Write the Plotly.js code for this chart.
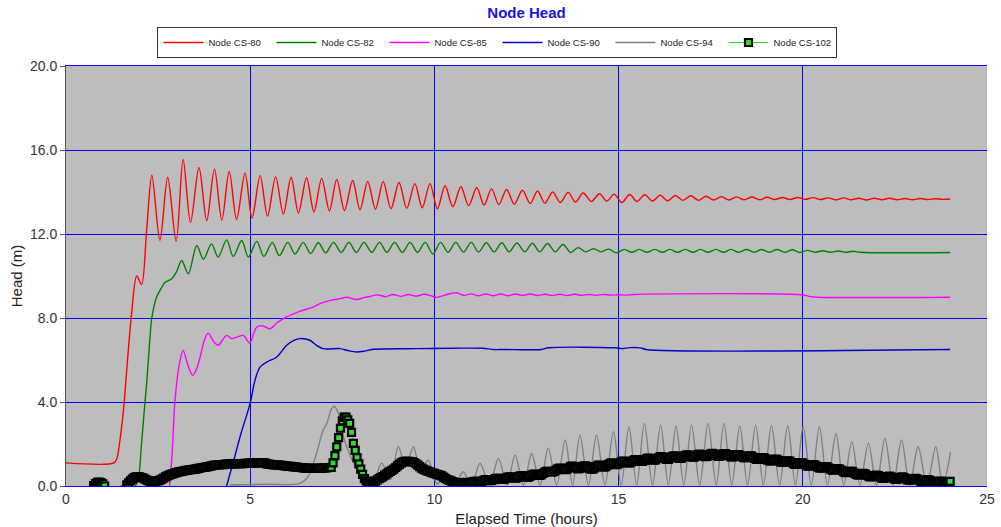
<!DOCTYPE html>
<html>
<head>
<meta charset="utf-8">
<script src="https://cdn.plot.ly/plotly-3.0.1.min.js"></script>
<style>html,body{margin:0;padding:0;background:#fff;}#chart{width:1001px;height:527px;}</style>
</head>
<body>
<div id="chart"></div>
<script>
const seriesNames = ['Node CS-80', 'Node CS-82', 'Node CS-85', 'Node CS-90', 'Node CS-94', 'Node CS-102'];
const xTicks = [0, 5, 10, 15, 20, 25];
const yTicks = [0, 4, 8, 12, 16, 20];

const cs80T = [0, 1.3, 1.38, 1.45, 1.56, 1.67, 1.78, 1.92, 2.05, 2.19, 2.33,
  2.55, 2.76, 2.99, 3.18, 3.38, 3.61, 3.82, 4.03, 4.23, 4.43, 4.63, 4.86, 5.05, 5.27, 5.47, 5.69, 5.9, 6.11,
  6.31, 6.53, 6.73, 6.94, 7.15, 7.35, 7.56, 7.78, 7.98, 8.19, 8.4, 8.61, 8.82, 9.04, 9.25, 9.47, 9.67, 9.88,
  10.08, 10.29, 10.5, 10.72, 10.93, 11.15, 11.35, 11.55, 11.75, 11.96, 12.17, 12.39, 12.6, 12.8, 13.0, 13.21,
  13.42, 13.63, 13.83, 14.04, 14.26, 14.48, 14.68, 14.88, 15.09, 15.3, 15.5, 15.71, 15.92, 16.13, 16.33, 16.54,
  16.75, 16.96, 17.17, 17.37, 17.58, 17.79, 18.0, 18.2, 18.41, 18.62, 18.83, 19.03, 19.24, 19.45, 19.65, 19.86,
  20.07, 20.28, 20.48, 20.69, 20.9, 21.11, 21.31, 21.52, 21.73, 21.94, 22.15, 22.35, 22.56, 22.77, 22.98, 23.18,
  23.39, 23.6, 23.8, 24.0];
const cs80V = [1.1, 1.1, 1.3, 2.0, 3.6, 6.0, 8.2, 10.0, 9.6, 12.2, 14.8,
  11.7, 14.7, 11.65, 15.55, 12.55, 15.17, 12.63, 15.1, 12.65, 14.98, 12.7, 14.9, 12.75, 14.78, 12.85, 14.72, 12.95, 14.7,
  13.0, 14.68, 13.05, 14.65, 13.1, 14.6, 13.12, 14.55, 13.15, 14.5, 13.18, 14.5, 13.2, 14.45, 13.22, 14.4, 13.25, 14.4,
  13.2, 14.3, 13.3, 14.25, 13.35, 14.2, 13.38, 14.15, 13.4, 14.12, 13.42, 14.08, 13.45, 14.05, 13.47, 14.0,
  13.5, 13.98, 13.52, 13.95, 13.55, 13.92, 13.57, 13.9, 13.5, 13.88, 13.55, 13.87, 13.57, 13.85, 13.58, 13.83,
  13.6, 13.82, 13.6, 13.8, 13.62, 13.78, 13.62, 13.77, 13.63, 13.76, 13.63, 13.75, 13.64, 13.74, 13.64, 13.74,
  13.65, 13.73, 13.64, 13.72, 13.62, 13.72, 13.63, 13.7, 13.62, 13.7, 13.63, 13.7, 13.63, 13.69, 13.63, 13.69,
  13.64, 13.68, 13.65, 13.67];

const cs82T = [1.88, 1.96, 2.05, 2.12, 2.19, 2.26, 2.33, 2.46, 2.58, 2.69, 2.87, 3.0, 3.14,
  3.32, 3.55, 3.73, 3.95, 4.13, 4.36, 4.54, 4.77, 4.95, 5.18, 5.37, 5.6, 5.79, 6.02, 6.22, 6.44, 6.64, 6.85,
  7.05, 7.26, 7.47, 7.68, 7.88, 8.09, 8.3, 8.51, 8.71, 8.92, 9.13, 9.34, 9.54, 9.75, 9.96, 10.17, 10.37, 10.58,
  10.79, 11.0, 11.2, 11.41, 11.62, 11.83, 12.03, 12.24, 12.45, 12.66, 12.86, 13.07, 13.28, 13.49, 13.7, 13.9,
  14.11, 14.32, 14.52, 14.73, 14.94, 15.15, 15.36, 15.56, 15.77, 15.98, 16.19, 16.39, 16.6, 16.81, 17.02, 17.22,
  17.43, 17.64, 17.85, 18.05, 18.26, 18.47, 18.68, 18.88, 19.09, 19.3, 19.51, 19.71, 19.92, 20.13, 20.34, 20.54,
  20.75, 20.96, 21.17, 21.37, 21.55, 24.0];
const cs82V = [0, 0.3, 2.0, 3.5, 4.9, 6.6, 8.0, 9.0, 9.4, 9.7, 9.87, 10.2, 10.74,
  10.1, 11.45, 10.8, 11.53, 10.9, 11.72, 10.93, 11.69, 10.9, 11.65, 10.93, 11.6, 10.97, 11.6, 11.05, 11.6, 11.07, 11.58,
  11.1, 11.6, 11.12, 11.6, 11.12, 11.6, 11.13, 11.6, 11.13, 11.6, 11.12, 11.6, 11.13, 11.6, 11.05, 11.6, 11.13, 11.6,
  11.14, 11.6, 11.14, 11.58, 11.15, 11.58, 11.15, 11.57, 11.15, 11.56, 11.15, 11.55, 11.15, 11.5, 11.12, 11.35,
  11.15, 11.3, 11.15, 11.28, 11.1, 11.27, 11.13, 11.27, 11.13, 11.27, 11.13, 11.27, 11.13, 11.27, 11.13, 11.27,
  11.13, 11.27, 11.13, 11.27, 11.13, 11.26, 11.13, 11.26, 11.13, 11.26, 11.13, 11.25, 11.12, 11.22, 11.13, 11.2,
  11.13, 11.19, 11.13, 11.18, 11.13, 11.12];

const cs85T = [2.81, 2.88, 2.96, 3.08, 3.18, 3.3, 3.44, 3.55, 3.64, 3.75, 3.86, 4.0, 4.13, 4.25, 4.36, 4.5, 4.65, 4.81,
  4.99, 5.1, 5.18, 5.35, 5.54, 5.75, 6.08, 6.4, 6.71, 6.89, 7.2, 7.44, 7.62, 7.89, 8.1, 8.25,
  8.46, 8.67, 8.88, 9.09, 9.3, 9.51, 9.72, 9.93, 10.05, 10.3, 10.6, 10.8, 11.0, 11.2, 11.4, 11.6, 11.8, 12.0, 12.2,
  12.4, 12.6, 12.8, 13.0, 13.2, 13.4, 13.6, 13.8, 14.0, 14.2, 14.4, 14.6, 14.8, 15.0, 15.2, 15.4, 20.0, 20.2, 20.4, 24.0];
const cs85V = [0, 1.5, 4.1, 5.83, 6.46, 5.8, 5.27, 5.6, 6.14, 6.9, 7.28, 6.9, 6.7, 6.95, 7.17, 7.02, 7.1, 7.17,
  6.81, 7.3, 7.57, 7.62, 7.49, 7.8, 8.12, 8.35, 8.52, 8.68, 8.85, 8.92, 8.99, 8.88, 8.98, 9.03,
  9.1, 9.02, 9.12, 9.03, 9.12, 9.04, 9.13, 9.05, 8.98, 9.1, 9.2, 9.08, 9.15, 9.06, 9.14, 9.06, 9.14, 9.06, 9.14,
  9.07, 9.14, 9.07, 9.13, 9.07, 9.13, 9.07, 9.13, 9.08, 9.12, 9.08, 9.12, 9.09, 9.11, 9.09, 9.12, 9.1, 9.02, 8.99, 8.99];

const cs90T = [4.36, 4.55, 4.75, 5.0, 5.13, 5.27, 5.45, 5.72, 5.99, 6.2, 6.35, 6.62, 6.8, 6.98, 7.44, 7.65, 7.89, 8.1,
  8.34, 9.5, 10.5, 11.3, 11.6, 11.9, 12.9, 13.1, 14.9, 15.1, 15.3, 15.6, 15.75, 24.0];
const cs90V = [0, 1.2, 2.5, 3.95, 5.04, 5.67, 5.9, 6.14, 6.7, 6.95, 7.02, 6.94, 6.7, 6.54, 6.54, 6.45, 6.38, 6.42,
  6.51, 6.54, 6.56, 6.56, 6.5, 6.5, 6.5, 6.58, 6.58, 6.54, 6.59, 6.58, 6.5, 6.5];

const cs94T = [4.45, 5.5, 6.3, 6.5, 6.62, 6.8, 6.98, 7.08, 7.21, 7.28, 7.39, 7.5, 7.7, 7.9, 8.12, 8.35, 8.57, 8.8,
  9.02, 9.22, 9.43, 9.63, 9.83, 10.08, 10.33, 10.55, 10.78, 11.0, 11.24, 11.49, 11.74, 11.97, 12.19, 12.42, 12.64,
  12.87, 13.09, 13.32, 13.55, 13.75, 13.95, 14.18, 14.4, 14.63, 14.86, 15.07, 15.28, 15.49, 15.7, 15.92, 16.14,
  16.35, 16.56, 16.77, 16.98, 17.2, 17.43, 17.65, 17.86, 18.07, 18.29, 18.5, 18.72, 18.93, 19.15, 19.37, 19.59,
  19.8, 20.01, 20.23, 20.45, 20.67, 20.9, 21.11, 21.33, 21.55, 21.78, 22.0, 22.23, 22.45, 22.68, 22.9, 23.13,
  23.37, 23.61, 23.8, 24.01];
const cs94V = [0.05, 0.08, 0.1, 0.3, 0.6, 1.55, 2.66, 2.98, 3.69, 3.8, 3.47, 2.5, 1.5, 0.8, 0.4, 0.3, 1.08, 0.3,
  1.87, 0.9, 1.87, 0.6, 1.24, 0.1, 0.6, 0.05, 0.68, 0.05, 1.08, 0.05, 1.31, 0.05, 1.47, 0.05, 1.55,
  0.05, 1.79, 0.05, 2.19, 0.05, 2.42, 0.05, 2.42, 0.05, 2.58, 0.05, 2.82, 0.05, 2.98, 0.05, 2.9,
  0.05, 2.86, 0.05, 2.9, 0.05, 2.98, 0.05, 2.98, 0.05, 2.86, 0.05, 2.9, 0.05, 2.88, 0.05, 2.88,
  0.05, 2.82, 0.05, 2.82, 0.05, 2.5, 0.05, 2.1, 0.05, 2.03, 0.05, 2.27, 0.05, 2.19, 0.05, 1.87,
  0.05, 1.87, 0.05, 1.63];

// CS-102: one value every 0.05 h from 0 to 24 h (values below 0 lie outside the plotted range)
const cs102Start = 0;
const cs102Step = 0.05;
const cs102V = [
  -1, -1, -1, -1, -1, -1, -1, -1, -1, -1, -1, -1, -1, -1, -0.3, 0.02, 0.12, 0.17, 0.18, 0.16,
  0.1, 0.0, -0.4, -1, -1, -1, -1, -1, -1, -1, -1, -1, -0.2, 0.05, 0.15, 0.25, 0.33, 0.4, 0.44, 0.45,
  0.44, 0.4, 0.38, 0.33, 0.28, 0.24, 0.21, 0.2, 0.21, 0.23, 0.26, 0.28, 0.33, 0.38, 0.43, 0.48, 0.52, 0.55, 0.58, 0.61,
  0.64, 0.67, 0.68, 0.7, 0.72, 0.74, 0.75, 0.77, 0.78, 0.79, 0.8, 0.82, 0.84, 0.86, 0.88, 0.89, 0.9, 0.92, 0.94, 0.96,
  0.98, 1.0, 1.0, 1.01, 1.02, 1.02, 1.03, 1.04, 1.04, 1.05, 1.05, 1.05, 1.06, 1.06, 1.06, 1.07, 1.07, 1.08, 1.08, 1.08,
  1.09, 1.09, 1.1, 1.1, 1.1, 1.1, 1.11, 1.11, 1.1, 1.05, 1.04, 1.03, 1.02, 1.01, 1.0, 1.0, 0.99, 0.98, 0.97, 0.96,
  0.95, 0.94, 0.93, 0.92, 0.91, 0.9, 0.89, 0.88, 0.87, 0.86, 0.85, 0.84, 0.84, 0.84, 0.84, 0.84, 0.84, 0.84, 0.84, 0.85,
  0.86, 0.86, 0.87, 0.88, 0.89, 1.1, 1.45, 1.87, 2.3, 2.75, 3.1, 3.28, 3.28, 3.15, 2.98, 2.55, 2.03, 1.7, 1.35, 1.05,
  0.8, 0.55, 0.35, 0.24, 0.18, 0.14, 0.13, 0.17, 0.23, 0.29, 0.35, 0.4, 0.45, 0.52, 0.58, 0.64, 0.7, 0.75, 0.8, 0.88,
  0.96, 1.03, 1.1, 1.15, 1.17, 1.17, 1.17, 1.16, 1.15, 1.12, 1.06, 0.99, 0.92, 0.85, 0.8, 0.76, 0.72, 0.69, 0.66, 0.62,
  0.6, 0.57, 0.54, 0.52, 0.48, 0.42, 0.36, 0.31, 0.28, 0.24, 0.2, 0.17, 0.15, 0.13, 0.13, 0.14, 0.16, 0.17, 0.16, 0.15,
  0.17, 0.2, 0.22, 0.22, 0.2, 0.2, 0.23, 0.28, 0.3, 0.28, 0.26, 0.27, 0.3, 0.35, 0.37, 0.37, 0.34, 0.32, 0.33, 0.38,
  0.42, 0.44, 0.42, 0.38, 0.37, 0.4, 0.46, 0.5, 0.5, 0.46, 0.42, 0.42, 0.47, 0.53, 0.57, 0.56, 0.52, 0.5, 0.53, 0.6,
  0.66, 0.7, 0.7, 0.68, 0.66, 0.69, 0.76, 0.82, 0.85, 0.84, 0.8, 0.78, 0.8, 0.87, 0.93, 0.95, 0.92, 0.86, 0.82, 0.84,
  0.9, 0.95, 0.96, 0.92, 0.85, 0.8, 0.8, 0.86, 0.94, 0.99, 0.98, 0.93, 0.9, 0.92, 0.99, 1.06, 1.1, 1.08, 1.03, 1.02,
  1.07, 1.13, 1.17, 1.18, 1.15, 1.1, 1.1, 1.15, 1.22, 1.26, 1.26, 1.22, 1.17, 1.17, 1.22, 1.29, 1.33, 1.32, 1.28, 1.23,
  1.24, 1.3, 1.37, 1.4, 1.38, 1.32, 1.27, 1.27, 1.33, 1.4, 1.44, 1.42, 1.36, 1.31, 1.32, 1.38, 1.45, 1.48, 1.47, 1.42,
  1.37, 1.37, 1.42, 1.49, 1.52, 1.5, 1.45, 1.4, 1.41, 1.47, 1.53, 1.55, 1.52, 1.46, 1.41, 1.42, 1.48, 1.53, 1.54, 1.5,
  1.44, 1.39, 1.39, 1.44, 1.49, 1.5, 1.46, 1.4, 1.35, 1.35, 1.39, 1.43, 1.43, 1.38, 1.32, 1.27, 1.27, 1.31, 1.35, 1.34,
  1.29, 1.23, 1.19, 1.2, 1.25, 1.28, 1.27, 1.21, 1.15, 1.12, 1.13, 1.18, 1.2, 1.18, 1.12, 1.06, 1.03, 1.05, 1.1, 1.12,
  1.09, 1.03, 0.97, 0.95, 0.97, 1.01, 1.02, 0.98, 0.91, 0.86, 0.85, 0.88, 0.92, 0.92, 0.87, 0.8, 0.76, 0.76, 0.8, 0.83,
  0.81, 0.75, 0.68, 0.64, 0.65, 0.69, 0.71, 0.68, 0.61, 0.55, 0.52, 0.54, 0.58, 0.6, 0.57, 0.5, 0.45, 0.43, 0.46, 0.5,
  0.52, 0.49, 0.42, 0.37, 0.36, 0.4, 0.45, 0.47, 0.44, 0.38, 0.33, 0.32, 0.36, 0.41, 0.43, 0.4, 0.34, 0.29, 0.28, 0.31,
  0.35, 0.37, 0.34, 0.28, 0.23, 0.22, 0.25, 0.29, 0.3, 0.27, 0.22, 0.17, 0.16, 0.19, 0.22, 0.23, 0.2, 0.15, 0.12, 0.14,
  0.22];

const FONT = 'Arial, "Liberation Sans", Helvetica, sans-serif';
const BLUE = 'rgb(0,0,255)';

function lineTrace(name, x, y, color) {
  return {type: 'scatter', mode: 'lines', name: name, x: x, y: y,
    line: {color: color, width: 1.4, shape: 'spline', smoothing: 0.9}, hoverinfo: 'skip'};
}

const traces = [
  lineTrace(seriesNames[0], cs80T, cs80V, '#ff0000'),
  lineTrace(seriesNames[1], cs82T, cs82V, '#008000'),
  lineTrace(seriesNames[2], cs85T, cs85V, '#ff00ff'),
  lineTrace(seriesNames[3], cs90T, cs90V, '#0000cc'),
  lineTrace(seriesNames[4], cs94T, cs94V, '#808080'),
  {type: 'scatter', mode: 'lines+markers', name: seriesNames[5], x0: cs102Start, dx: cs102Step, y: cs102V,
    line: {color: '#33dd33', width: 1},
    marker: {symbol: 'square', size: 7, color: '#33dd33', line: {color: '#000000', width: 2.2}},
    cliponaxis: true, hoverinfo: 'skip'}
];

const layout = {
  width: 1001, height: 527,
  margin: {l: 66, r: 14, t: 66, b: 41, pad: 0},
  paper_bgcolor: '#ffffff',
  plot_bgcolor: '#bdbdbd',
  font: {family: FONT, size: 13, color: '#222'},
  title: {text: '<b>Node Head</b>', font: {family: FONT, size: 15, color: '#1515e6'},
    x: 0.5, xanchor: 'center', xref: 'paper', y: 0.975, yanchor: 'middle'},
  showlegend: true,
  legend: {orientation: 'h', x: 0.4685, xanchor: 'center', y: 1.0929, yanchor: 'top',
    bgcolor: '#ffffff', bordercolor: '#333333', borderwidth: 1,
    font: {family: FONT, size: 9.5, color: '#222'},
    entrywidth: 58, entrywidthmode: 'pixels', itemwidth: 40, traceorder: 'normal'},
  xaxis: {range: [0, 25], tickvals: xTicks, ticktext: xTicks.map(String),
    showgrid: true, gridcolor: BLUE, gridwidth: 1, zeroline: false,
    showline: true, linecolor: BLUE, linewidth: 1, mirror: true,
    ticks: '', tickfont: {family: FONT, size: 14, color: '#333'},
    title: {text: 'Elapsed Time (hours)', font: {family: FONT, size: 15, color: '#222'}, standoff: 8},
    fixedrange: true},
  yaxis: {range: [0, 20], tickvals: yTicks, ticktext: yTicks.map(v => v.toFixed(1)),
    showgrid: true, gridcolor: BLUE, gridwidth: 1, griddash: 'solid',
    zeroline: false,
    showline: true, linecolor: '#555555', linewidth: 1,
    ticks: 'outside', ticklen: 5, tickcolor: '#555555',
    tickfont: {family: FONT, size: 14, color: '#333'},
    title: {text: 'Head (m)', font: {family: FONT, size: 15, color: '#222'}, standoff: 3},
    fixedrange: true}
};

Plotly.newPlot('chart', traces, layout, {displayModeBar: false, staticPlot: true});
</script>
</body>
</html>
